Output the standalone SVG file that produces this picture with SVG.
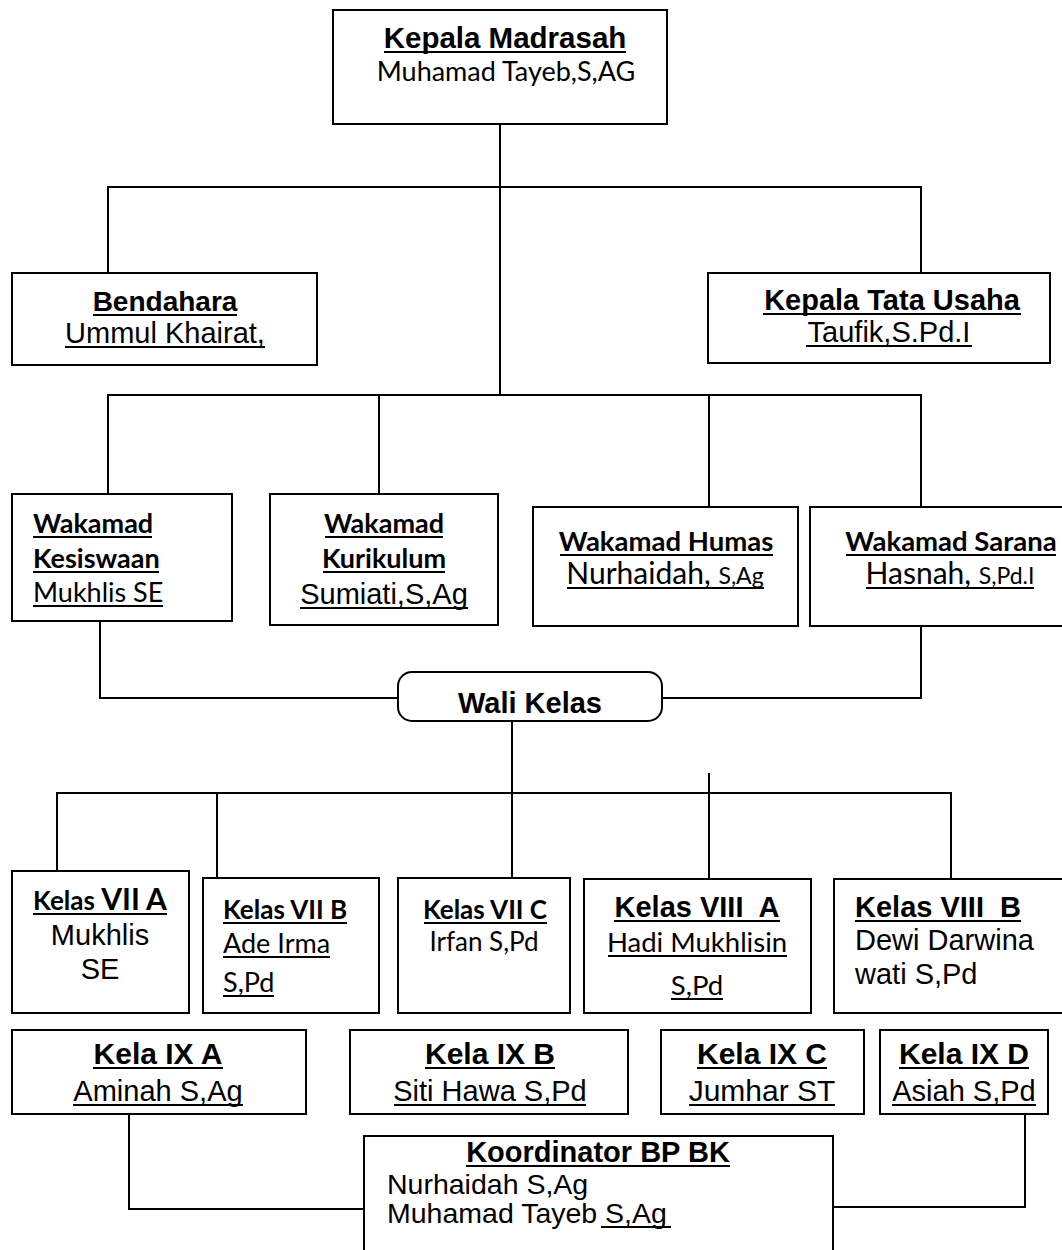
<svg xmlns="http://www.w3.org/2000/svg" width="1062" height="1250" viewBox="0 0 1062 1250">
<style>
rect{fill:#fff;stroke:#000;stroke-width:2}
.c line,.c path{stroke:#000;stroke-width:2;fill:none}
.ul{stroke:#000;stroke-width:2.2}
text{fill:#000;white-space:pre}
.ab{font-family:"Liberation Sans",Arial,sans-serif;font-weight:bold;font-size:29px}
.ar{font-family:"Liberation Sans",Arial,sans-serif;font-size:29px}
.cb{font-family:Lato,"Open Sans",sans-serif;font-weight:bold;font-size:27px}
.cr{font-family:Lato,"Open Sans",sans-serif;font-size:27px}
.m{text-anchor:middle}
</style>
<g class="c" id="connectors">
<line x1="500" y1="124" x2="500" y2="395"/>
<path d="M108 273 V187 H921 V273"/>
<path d="M108 494 V395 H921 V507"/>
<line x1="379" y1="395" x2="379" y2="494"/>
<line x1="709" y1="395" x2="709" y2="507"/>
<path d="M100 621 V698 H398"/>
<path d="M921 626 V698 H662"/>
<line x1="512" y1="720" x2="512" y2="793"/>
<path d="M57 871 V793 H951 V879"/>
<line x1="217" y1="793" x2="217" y2="878"/>
<line x1="512" y1="793" x2="512" y2="878"/>
<line x1="709" y1="773" x2="709" y2="883"/>
<path d="M129 1114 V1209 H364"/>
<path d="M1025 1114 V1207 H833"/>
</g>
<g id="kepala-madrasah">
<rect x="333" y="10" width="334" height="114"/>
<text class="ab m" x="505" y="48" style="font-size:29.5px">Kepala Madrasah</text>
<line class="ul" x1="384" y1="52" x2="626" y2="52"/>
<text class="cr m" x="506" y="81">Muhamad Tayeb,S,AG</text>
</g>
<g id="bendahara">
<rect x="12" y="273" width="305" height="92"/>
<text class="ab m" x="165" y="311" style="font-size:28px">Bendahara</text>
<line class="ul" x1="93" y1="315" x2="237" y2="315"/>
<text class="ar m" x="165" y="343">Ummul Khairat,</text>
<line class="ul" x1="65" y1="347" x2="265" y2="347"/>
</g>
<g id="kepala-tu">
<rect x="708" y="273" width="342" height="90"/>
<text class="ab m" x="892" y="310">Kepala Tata Usaha</text>
<line class="ul" x1="763" y1="314" x2="1021" y2="314"/>
<text class="ar m" x="889" y="342">Taufik,S.Pd.I</text>
<line class="ul" x1="806" y1="346" x2="972" y2="346"/>
</g>
<g id="wakamad-kesiswaan">
<rect x="12" y="494" width="220" height="127"/>
<text class="cb" x="33" y="533">Wakamad</text>
<line class="ul" x1="33" y1="537" x2="152" y2="537"/>
<text class="cb" x="33" y="568">Kesiswaan</text>
<line class="ul" x1="33" y1="572" x2="159" y2="572"/>
<text class="cr" x="33" y="602">Mukhlis SE</text>
<line class="ul" x1="33" y1="606" x2="163" y2="606"/>
</g>
<g id="wakamad-kurikulum">
<rect x="270" y="494" width="228" height="131"/>
<text class="cb m" x="384" y="533">Wakamad</text>
<line class="ul" x1="325" y1="537" x2="443" y2="537"/>
<text class="cb m" x="384" y="568">Kurikulum</text>
<line class="ul" x1="323" y1="572" x2="445" y2="572"/>
<text class="ar m" x="384" y="604">Sumiati,S,Ag</text>
<line class="ul" x1="300" y1="608" x2="468" y2="608"/>
</g>
<g id="wakamad-humas">
<rect x="533" y="507" width="265" height="119"/>
<text class="cb m" x="666" y="551" style="font-size:27.5px">Wakamad Humas</text>
<line class="ul" x1="560" y1="555" x2="773" y2="555"/>
<text class="cr m" x="665" y="584" style="font-size:30px">Nurhaidah, <tspan style="font-size:23px">S,Ag</tspan></text>
<line class="ul" x1="567" y1="588" x2="764" y2="588"/>
</g>
<g id="wakamad-sarana">
<rect x="810" y="507" width="260" height="119"/>
<text class="cb m" x="951" y="551" style="font-size:27.5px">Wakamad Sarana</text>
<line class="ul" x1="846" y1="555" x2="1056" y2="555"/>
<text class="cr m" x="950" y="584" style="font-size:30px">Hasnah, <tspan style="font-size:23px">S,Pd.I</tspan></text>
<line class="ul" x1="866" y1="588" x2="1034" y2="588"/>
</g>
<g id="wali-kelas">
<rect x="398" y="672" width="264" height="49" rx="14"/>
<text class="ab m" x="530" y="713">Wali Kelas</text>
</g>
<g id="kelas-7a">
<rect x="12" y="871" width="177" height="142"/>
<text class="cb m" x="100" y="910" style="font-size:26px">Kelas <tspan style="font-size:30px">VII A</tspan></text>
<line class="ul" x1="33" y1="914" x2="167" y2="914"/>
<text class="ar m" x="100" y="945">Mukhlis</text>
<text class="ar m" x="100" y="979">SE</text>
</g>
<g id="kelas-7b">
<rect x="203" y="878" width="176" height="135"/>
<text class="cb" x="223" y="919" style="font-size:26px">Kelas VII B</text>
<line class="ul" x1="223" y1="923" x2="347" y2="923"/>
<text class="cr" x="223" y="953">Ade Irma</text>
<line class="ul" x1="223" y1="957" x2="330" y2="957"/>
<text class="cr" x="223" y="992">S,Pd</text>
<line class="ul" x1="223" y1="996" x2="274" y2="996"/>
</g>
<g id="kelas-7c">
<rect x="398" y="878" width="172" height="135"/>
<text class="cb m" x="485" y="919" style="font-size:26px">Kelas VII C</text>
<line class="ul" x1="424" y1="923" x2="547" y2="923"/>
<text class="cr m" x="484" y="951" style="font-size:26px">Irfan S,Pd</text>
</g>
<g id="kelas-8a">
<rect x="584" y="879" width="227" height="134"/>
<text class="ab m" x="697" y="917">Kelas VIII  A</text>
<line class="ul" x1="614" y1="921" x2="780" y2="921"/>
<text class="cr m" x="697" y="952" style="font-size:27.5px">Hadi Mukhlisin</text>
<line class="ul" x1="608" y1="956" x2="787" y2="956"/>
<text class="cr m" x="697" y="995" style="font-size:27.5px">S,Pd</text>
<line class="ul" x1="671" y1="999" x2="723" y2="999"/>
</g>
<g id="kelas-8b">
<rect x="834" y="879" width="236" height="134"/>
<text class="ab" x="855" y="917">Kelas VIII  B</text>
<line class="ul" x1="855" y1="921" x2="1021" y2="921"/>
<text class="ar" x="855" y="950">Dewi Darwina</text>
<text class="ar" x="855" y="984">wati S,Pd</text>
</g>
<g id="kela-9a">
<rect x="12" y="1030" width="294" height="84"/>
<text class="ab m" x="158" y="1064" style="font-size:30px">Kela IX A</text>
<line class="ul" x1="93" y1="1068" x2="223" y2="1068"/>
<text class="ar m" x="158" y="1101">Aminah S,Ag</text>
<line class="ul" x1="73" y1="1105" x2="243" y2="1105"/>
</g>
<g id="kela-9b">
<rect x="350" y="1030" width="278" height="84"/>
<text class="ab m" x="490" y="1064" style="font-size:30px">Kela IX B</text>
<line class="ul" x1="425" y1="1068" x2="555" y2="1068"/>
<text class="ar m" x="490" y="1101">Siti Hawa S,Pd</text>
<line class="ul" x1="394" y1="1105" x2="586" y2="1105"/>
</g>
<g id="kela-9c">
<rect x="661" y="1030" width="203" height="84"/>
<text class="ab m" x="762" y="1064" style="font-size:30px">Kela IX C</text>
<line class="ul" x1="697" y1="1068" x2="827" y2="1068"/>
<text class="ar m" x="762" y="1101" style="font-size:30px">Jumhar ST</text>
<line class="ul" x1="689" y1="1105" x2="835" y2="1105"/>
</g>
<g id="kela-9d">
<rect x="880" y="1030" width="168" height="84"/>
<text class="ab m" x="964" y="1064" style="font-size:30px">Kela IX D</text>
<line class="ul" x1="899" y1="1068" x2="1029" y2="1068"/>
<text class="ar m" x="964" y="1101">Asiah S,Pd</text>
<line class="ul" x1="892" y1="1105" x2="1036" y2="1105"/>
</g>
<g id="koordinator-bp-bk">
<rect x="364" y="1136" width="469" height="130"/>
<text class="ab m" x="598" y="1162">Koordinator BP BK</text>
<line class="ul" x1="466" y1="1166" x2="730" y2="1166"/>
<text class="ar" x="387" y="1194" style="font-size:28.5px">Nurhaidah S,Ag</text>
<text class="ar" x="387" y="1223" style="font-size:28.5px">Muhamad Tayeb S,Ag</text>
<line class="ul" x1="601" y1="1227" x2="671" y2="1227"/>
</g>
</svg>
